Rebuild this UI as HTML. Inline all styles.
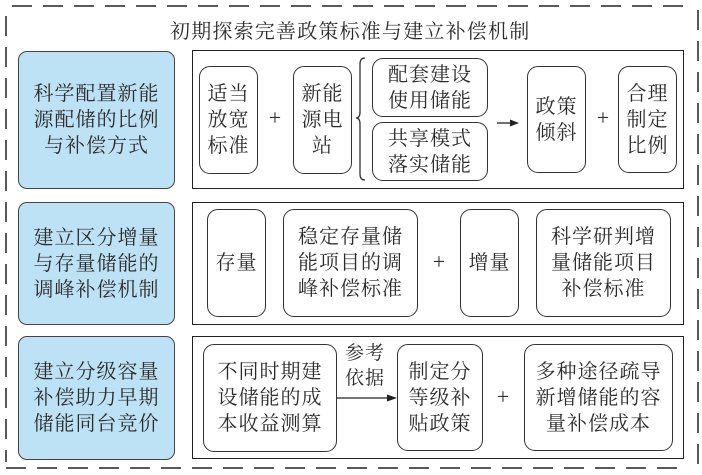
<!DOCTYPE html>
<html><head><meta charset="utf-8">
<style>
html,body{margin:0;padding:0;background:#fff;}
body{width:702px;height:475px;position:relative;overflow:hidden;font-family:"Liberation Serif","Noto Serif CJK SC","Noto Serif CJK","Noto Serif SC","Noto Serif CJK JP","Noto Serif CJK TC",serif;color:#2b2b2b;}
.a{position:absolute;box-sizing:border-box;display:flex;align-items:center;justify-content:center;text-align:center;font-size:20px;line-height:26px;letter-spacing:1px;}
.blue{background:#bde2f6;border:1.3px solid #444;border-radius:9px;}
.frame{position:absolute;box-sizing:border-box;border:1.5px solid #222;}
.r{border:1.3px solid #333;border-radius:11px;background:#fff;}
.plus{position:absolute;font-size:22px;line-height:22px;width:20px;text-align:center;color:#333;}
.t{position:absolute;font-size:20px;letter-spacing:1.2px;white-space:nowrap;}
svg{position:absolute;left:0;top:0;}
</style></head><body>
<svg width="702" height="475">
  <g stroke="#222" stroke-width="1.5" fill="none" stroke-dasharray="20 11">
    <line x1="12" y1="6" x2="688" y2="6"/>
    <line x1="698" y1="10" x2="698" y2="470"/>
    <line x1="6" y1="468" x2="688" y2="468"/>
    <line x1="6" y1="16" x2="6" y2="462"/>
  </g>
  <!-- brace -->
  <path d="M365,58 Q360,58 360,64 L360,112 Q360,118 356,118 Q360,118 360,124 L360,174 Q360,180 365,180" stroke="#333" stroke-width="1.3" fill="none"/>
  <!-- arrow row1 -->
  <line x1="497" y1="123" x2="512" y2="123" stroke="#222" stroke-width="1.3"/>
  <polygon points="519,123 510,119.5 510,126.5" fill="#222"/>
  <!-- arrow row3 -->
  <line x1="337" y1="398" x2="389" y2="398" stroke="#222" stroke-width="1.3"/>
  <polygon points="397,398 387,394.5 387,401.5" fill="#222"/>
</svg>

<div class="t" style="left:170px;top:15px;">初期探索完善政策标准与建立补偿机制</div>

<!-- Row 1 -->
<div class="a blue" style="left:18px;top:51px;width:157px;height:138px;">科学配置新能<br>源配储的比例<br>与补偿方式</div>
<div class="frame" style="left:192px;top:50px;width:492px;height:139px;"></div>
<div class="a r" style="left:199px;top:66px;width:59px;height:108px;">适当<br>放宽<br>标准</div>
<div class="plus" style="left:265px;top:107px;">+</div>
<div class="a r" style="left:293px;top:66px;width:59px;height:108px;">新能<br>源电<br>站</div>
<div class="a r" style="left:372px;top:58px;width:116px;height:59px;">配套建设<br>使用储能</div>
<div class="a r" style="left:372px;top:122px;width:116px;height:59px;">共享模式<br>落实储能</div>
<div class="a r" style="left:527px;top:66px;width:59px;height:107px;">政策<br>倾斜</div>
<div class="plus" style="left:593px;top:107px;">+</div>
<div class="a r" style="left:618px;top:66px;width:59px;height:107px;">合理<br>制定<br>比例</div>

<!-- Row 2 -->
<div class="a blue" style="left:18px;top:202px;width:157px;height:123px;">建立区分增量<br>与存量储能的<br>调峰补偿机制</div>
<div class="frame" style="left:192px;top:202px;width:492px;height:123px;"></div>
<div class="a r" style="left:207px;top:209px;width:59px;height:108px;">存量</div>
<div class="a r" style="left:283px;top:209px;width:135px;height:108px;">稳定存量储<br>能项目的调<br>峰补偿标准</div>
<div class="plus" style="left:429px;top:251px;">+</div>
<div class="a r" style="left:460px;top:209px;width:59px;height:108px;">增量</div>
<div class="a r" style="left:536px;top:209px;width:135px;height:108px;">科学研判增<br>量储能项目<br>补偿标准</div>

<!-- Row 3 -->
<div class="a blue" style="left:18px;top:336px;width:157px;height:124px;">建立分级容量<br>补偿助力早期<br>储能同台竞价</div>
<div class="frame" style="left:192px;top:336px;width:492px;height:123px;"></div>
<div class="a r" style="left:203px;top:344px;width:134px;height:108px;">不同时期建<br>设储能的成<br>本收益测算</div>
<div class="a" style="left:340px;top:340px;width:50px;height:52px;font-size:19px;line-height:25px;">参考<br>依据</div>
<div class="a r" style="left:397px;top:344px;width:86px;height:107px;">制定分<br>等级补<br>贴政策</div>
<div class="plus" style="left:493px;top:386px;">+</div>
<div class="a r" style="left:524px;top:344px;width:149px;height:107px;">多种途径疏导<br>新增储能的容<br>量补偿成本</div>
</body></html>
